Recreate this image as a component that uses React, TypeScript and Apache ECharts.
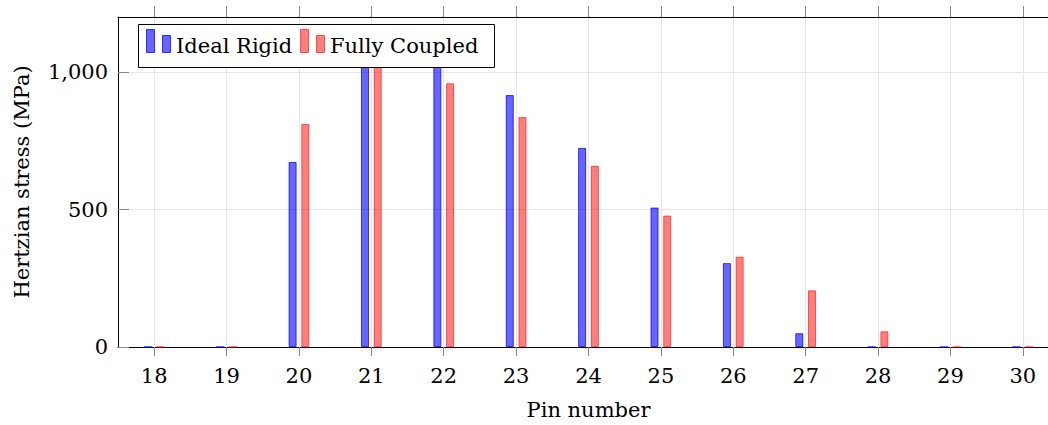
import React, { useEffect, useRef } from "react";
import * as echarts from "echarts";

const pins = [18, 19, 20, 21, 22, 23, 24, 25, 26, 27, 28, 29, 30];
const idealRigid = [0, 0, 673, 1150, 1070, 916, 724, 507, 305, 50, 0, 0, 0];
const fullyCoupled = [0, 0, 811, 1100, 959, 836, 659, 478, 328, 206, 57, 0, 0];
const seriesNames = ["Ideal Rigid", "Fully Coupled"];
const yTicks = [0, 500, 1000];

const FONT = "'DejaVu Serif', serif";
const FS = 21;

export default function App() {
  const ref = useRef<HTMLDivElement>(null);
  useEffect(() => {
    if (!ref.current) return;
    const chart = echarts.init(ref.current, null, { renderer: "svg" });
    const blueFill = "rgba(0,0,255,0.6)";
    const blueStroke = "rgba(0,0,255,0.75)";
    const redFill = "rgba(255,0,0,0.5)";
    const redStroke = "rgba(255,0,0,0.6)";
    const option: any = {
      animation: false,
      textStyle: { fontFamily: FONT },
      grid: { left: 118, top: 17, width: 941, height: 334 },
      xAxis: [
        {
          type: "value",
          min: 17.5,
          max: 30.5,
          position: "bottom",
          name: "Pin number",
          nameLocation: "middle",
          nameGap: 52,
          nameTextStyle: { fontFamily: FONT, fontSize: FS, color: "#000" },
          axisLine: { show: true, onZero: false, lineStyle: { color: "#000", width: 1 } },
          axisTick: { show: true, inside: false, length: 9, customValues: pins, lineStyle: { color: "#888" } },
          axisLabel: { customValues: pins, margin: 18, fontFamily: FONT, fontSize: FS, color: "#000" },
          splitLine: { show: true, lineStyle: { color: "#e6e6e6", width: 1 } },
        },
        {
          type: "value",
          min: 17.5,
          max: 30.5,
          position: "top",
          axisLine: { show: true, onZero: false, lineStyle: { color: "#000", width: 1 } },
          axisTick: { show: true, inside: false, length: 11, customValues: pins, lineStyle: { color: "#888" } },
          axisLabel: { show: false, customValues: pins },
          splitLine: { show: false },
        },
      ],
      yAxis: {
        type: "value",
        min: 0,
        max: 1200,
        interval: 500,
        name: "Hertzian stress (MPa)",
        nameLocation: "middle",
        nameGap: 86,
        nameTextStyle: { fontFamily: FONT, fontSize: FS, color: "#000" },
        axisLine: { show: true, lineStyle: { color: "#000", width: 1 } },
        axisTick: { show: true, inside: true, length: 11, customValues: yTicks, lineStyle: { color: "#888" } },
        axisLabel: {
          customValues: yTicks,
          margin: 10,
          fontFamily: FONT,
          fontSize: FS,
          color: "#000",
          formatter: (v: number) => (v >= 1000 ? v.toLocaleString("en-US") : String(v)),
        },
        splitLine: { show: true, lineStyle: { color: "#e6e6e6", width: 1 } },
      },
      series: [
        {
          name: seriesNames[0],
          type: "bar",
          clip: true,
          z: 2,
          barWidth: 8,
          barGap: "59%",
          data: pins.map((p, i) => [p, idealRigid[i]]),
          itemStyle: { color: blueFill, borderColor: blueStroke, borderWidth: 1 },
        },
        {
          name: seriesNames[1],
          type: "bar",
          clip: true,
          z: 2,
          barWidth: 8,
          barGap: "59%",
          data: pins.map((p, i) => [p, fullyCoupled[i]]),
          itemStyle: { color: redFill, borderColor: redStroke, borderWidth: 1 },
        },
      ],
      graphic: {
        z: 100,
        elements: [
          { type: "rect", z: 100, z2: 1, shape: { x: 138.5, y: 24.5, width: 356, height: 43 }, style: { fill: "#fff", stroke: "#000", lineWidth: 1 } },
          { type: "rect", z: 100, z2: 2, shape: { x: 146.5, y: 29.5, width: 8, height: 23 }, style: { fill: blueFill, stroke: blueStroke, lineWidth: 1 } },
          { type: "rect", z: 100, z2: 2, shape: { x: 162.5, y: 35.5, width: 8, height: 17 }, style: { fill: blueFill, stroke: blueStroke, lineWidth: 1 } },
          { type: "text", z: 100, z2: 2, x: 176, y: 46, style: { text: seriesNames[0], font: `${FS}px ${FONT}`, fill: "#000", verticalAlign: "middle" } },
          { type: "rect", z: 100, z2: 2, shape: { x: 300.5, y: 29.5, width: 8, height: 23 }, style: { fill: redFill, stroke: redStroke, lineWidth: 1 } },
          { type: "rect", z: 100, z2: 2, shape: { x: 316.5, y: 35.5, width: 8, height: 17 }, style: { fill: redFill, stroke: redStroke, lineWidth: 1 } },
          { type: "text", z: 100, z2: 2, x: 330, y: 46, style: { text: seriesNames[1], font: `${FS}px ${FONT}`, fill: "#000", verticalAlign: "middle" } },
        ],
      },
    };
    chart.setOption(option);
    return () => chart.dispose();
  }, []);
  return (
    <div style={{ position: "fixed", left: 0, top: 0, width: 1048, height: 425, overflow: "hidden", background: "#fff" }}>
      <div ref={ref} style={{ width: 1100, height: 425 }} />
    </div>
  );
}
